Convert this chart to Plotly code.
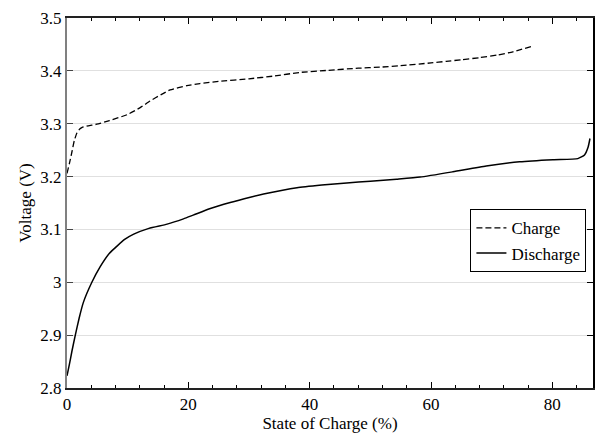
import plotly.graph_objects as go

# Charge curve (dashed)
charge_soc = [0.0, 0.4, 0.8, 1.2, 1.65, 2.1, 2.5, 3.5, 4.9, 7.0, 9.9, 12.0, 13.7, 15.5, 17.0, 19.75, 21.9, 25.0, 30.0, 34.0, 38.4, 43.0, 48.0, 51.6, 55.0, 60.0, 62.5, 65.0, 68.0, 71.0, 73.5, 76.5]
charge_v = [3.206, 3.225, 3.246, 3.268, 3.283, 3.290, 3.293, 3.296, 3.299, 3.306, 3.317, 3.330, 3.343, 3.355, 3.364, 3.372, 3.376, 3.380, 3.385, 3.390, 3.397, 3.401, 3.405, 3.407, 3.410, 3.415, 3.418, 3.421, 3.425, 3.430, 3.436, 3.446]

# Discharge curve (solid)
discharge_soc = [0.0, 0.4, 0.82, 1.37, 2.0, 2.7, 4.1, 5.5, 7.0, 8.2, 9.5, 11.0, 13.5, 16.5, 19.2, 20.8, 23.5, 26.9, 30.2, 32.4, 37.9, 42.0, 46.1, 50.0, 54.3, 58.2, 63.6, 69.1, 74.6, 80.1, 84.2, 85.3, 85.9, 86.2]
discharge_v = [2.823, 2.845, 2.870, 2.900, 2.932, 2.962, 3.000, 3.030, 3.055, 3.068, 3.081, 3.091, 3.102, 3.110, 3.120, 3.127, 3.139, 3.151, 3.161, 3.167, 3.179, 3.184, 3.188, 3.191, 3.195, 3.199, 3.209, 3.220, 3.228, 3.232, 3.234, 3.241, 3.256, 3.272]

y_ticks = [2.8, 2.9, 3.0, 3.1, 3.2, 3.3, 3.4, 3.5]
y_tick_text = ["2.8", "2.9", "3", "3.1", "3.2", "3.3", "3.4", "3.5"]
x_ticks = [0, 20, 40, 60, 80]
x_tick_text = ["0", "20", "40", "60", "80"]

X_RANGE = [0, 86.7]
Y_RANGE = [2.8, 3.5]
FONT = "'Liberation Serif', 'Times New Roman', Times, serif"
FS = 17

fig = go.Figure()
fig.add_trace(go.Scatter(
    x=charge_soc, y=charge_v, mode="lines", name="Charge",
    line=dict(color="black", width=1.3, dash="6px,3px", shape="spline", smoothing=0.5),
))
fig.add_trace(go.Scatter(
    x=discharge_soc, y=discharge_v, mode="lines", name="Discharge",
    line=dict(color="black", width=1.5, shape="spline", smoothing=0.5),
))
# invisible helper trace so the right axis line gets drawn
fig.add_trace(go.Scatter(
    x=[X_RANGE[0]], y=[Y_RANGE[0]], xaxis="x", yaxis="y2", mode="markers",
    marker=dict(opacity=0), showlegend=False, hoverinfo="skip",
))

fig.update_layout(
    width=603, height=443,
    margin=dict(l=67, r=10, t=9, b=55),
    paper_bgcolor="white", plot_bgcolor="white",
    font=dict(family=FONT, size=FS, color="black"),
    showlegend=True,
    legend=dict(
        x=0.9875, y=0.398, xanchor="right", yanchor="middle",
        bgcolor="white", bordercolor="black", borderwidth=1,
        font=dict(family=FONT, size=FS, color="black"),
        tracegroupgap=0,
    ),
    xaxis=dict(
        range=X_RANGE, tickmode="array", tickvals=x_ticks, ticktext=x_tick_text,
        ticks="inside", ticklen=6, tickwidth=1, tickcolor="black",
        minor=dict(tickmode="linear", dtick=4, tick0=0, ticks="inside", ticklen=3, tickwidth=1, tickcolor="black"),
        showgrid=False, zeroline=False, mirror="ticks",
        showline=True, linecolor="#222222", linewidth=1.5,
        title=dict(text="State of Charge (%)", standoff=2, font=dict(size=FS)),
        tickfont=dict(size=FS), ticklabeloverflow="allow",
    ),
    yaxis=dict(
        range=Y_RANGE, tickmode="array", tickvals=y_ticks, ticktext=y_tick_text,
        ticks="inside", ticklen=6, tickwidth=1, tickcolor="#444444",
        showgrid=True, gridcolor="#e0e0e0", gridwidth=1, zeroline=False,
        showline=True, linecolor="#808080", linewidth=2,
        title=dict(text="Voltage (V)", standoff=4, font=dict(size=FS)),
        tickfont=dict(size=FS), ticklabeloverflow="allow",
    ),
    yaxis2=dict(
        range=Y_RANGE, overlaying="y", side="right", showticklabels=False,
        tickmode="array", tickvals=y_ticks, ticks="inside", ticklen=6, tickwidth=1, tickcolor="black",
        showgrid=False, zeroline=False,
        showline=True, linecolor="black", linewidth=1.5,
    ),
)

fig.write_html("out.html")
